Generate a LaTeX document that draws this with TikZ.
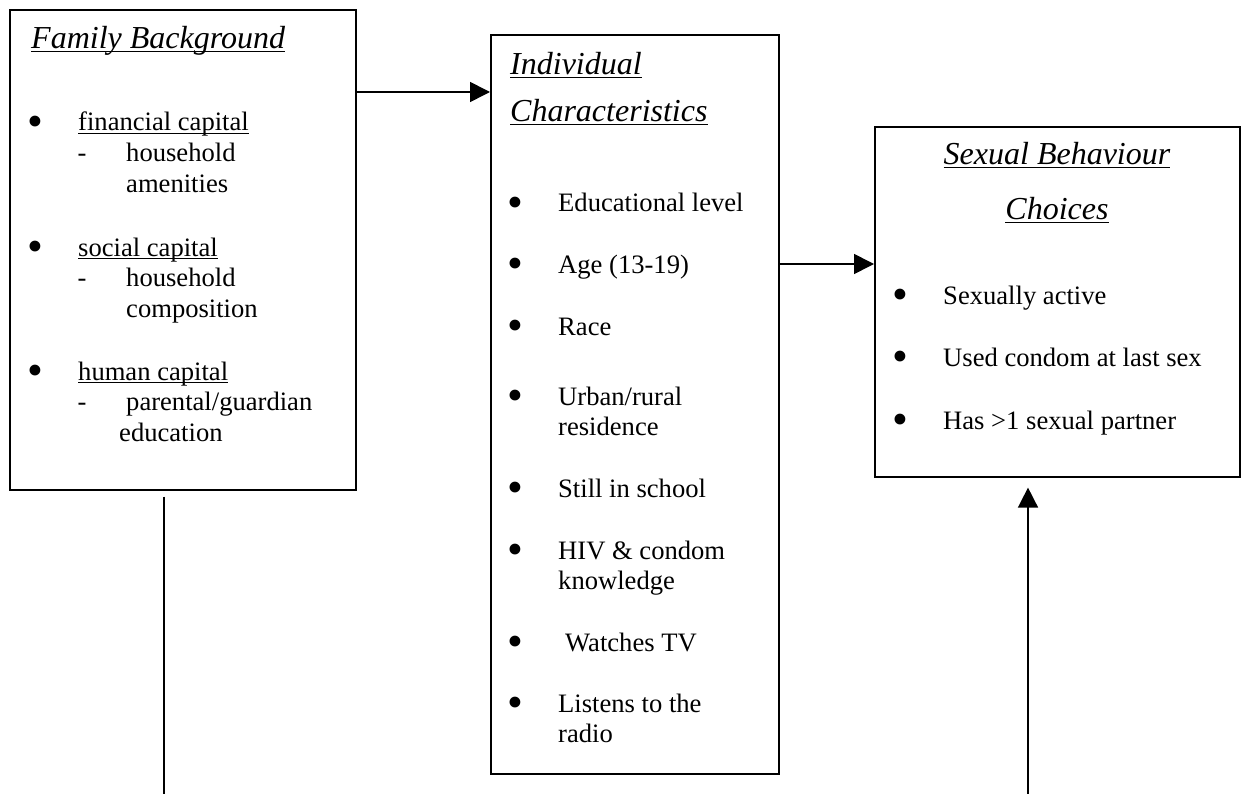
\documentclass[tikz,border=0pt]{standalone}
\usepackage{fontspec}
\usepackage{graphicx}
\setmainfont{Liberation Serif}
\usetikzlibrary{arrows.meta}
\newcommand\ulin[1]{\setbox0\hbox{#1}\rlap{\rule[-3.2pt]{\wd0}{1.4pt}}\box0}
\newcommand\bigbul{\raisebox{-5.2pt}{\scalebox{1.7}{\textbullet}}}
\tikzset{
  box/.style={draw=black, line width=1.6pt, inner sep=0pt, anchor=north west},
  conn/.style={draw=black, line width=1.6pt},
  arr/.style={conn, -{Triangle[length=20pt,width=20pt]}},
  body/.style={anchor=base west, inner sep=0pt, font=\fontsize{26.6}{30.6}\selectfont},
  head/.style={anchor=base west, inner sep=0pt, font=\fontsize{32}{36}\selectfont\itshape},
  bul/.style={anchor=base, inner sep=0pt, font=\fontsize{26.6}{30.6}\selectfont},
}
\begin{document}
\begin{tikzpicture}[x=1pt,y=-1pt]
\useasboundingbox (0,0) rectangle (1241,794);
% boxes
\node[box, minimum width=346pt, minimum height=480pt] (fam) at (9,9) {};
\node[box, minimum width=288pt, minimum height=739pt] (ind) at (490,34) {};
\node[box, minimum width=365pt, minimum height=350pt] (sex) at (874,126) {};
% Family background
\node[head] (fh) at (31,49) {\ulin{Family Background}};
\node[bul] (fb1) at (35,131) {\bigbul};
\node[body] (f1) at (78,131) {\ulin{financial capital}};
\node[bul] (fd1) at (82,162) {-};
\node[body] (f1a) at (126,162) {household};
\node[body] (f1b) at (126,193) {amenities};
\node[bul] (fb2) at (35,256) {\bigbul};
\node[body] (f2) at (78,256) {\ulin{social capital}};
\node[bul] (fd2) at (82,286) {-};
\node[body] (f2a) at (126,286) {household};
\node[body] (f2b) at (126,317) {composition};
\node[bul] (fb3) at (35,380) {\bigbul};
\node[body] (f3) at (78,380) {\ulin{human capital}};
\node[bul] (fd3) at (82,410) {-};
\node[body] (f3a) at (126,410) {parental/guardian};
\node[body] (f3b) at (119,441) {education};
% Individual characteristics
\node[head] (ih1) at (510,75) {\ulin{Individual}};
\node[head] (ih2) at (510,122) {\ulin{Characteristics}};
\node[bul] (ib1) at (515,212) {\bigbul};
\node[body] (i1) at (558,212) {Educational level};
\node[bul] (ib2) at (515,273) {\bigbul};
\node[body] (i2) at (558,273) {Age (13-19)};
\node[bul] (ib3) at (515,335) {\bigbul};
\node[body] (i3) at (558,335) {Race};
\node[bul] (ib4) at (515,405) {\bigbul};
\node[body] (i4a) at (558,405) {Urban/rural};
\node[body] (i4b) at (558,435) {residence};
\node[bul] (ib5) at (515,497) {\bigbul};
\node[body] (i5) at (558,497) {Still in school};
\node[bul] (ib6) at (515,559) {\bigbul};
\node[body] (i6a) at (558,559) {HIV \& condom};
\node[body] (i6b) at (558,589) {knowledge};
\node[bul] (ib7) at (515,651) {\bigbul};
\node[body] (i7) at (565,651) {Watches TV};
\node[bul] (ib8) at (515,712) {\bigbul};
\node[body] (i8a) at (558,712) {Listens to the};
\node[body] (i8b) at (558,742) {radio};
% Sexual behaviour choices
\node[head, anchor=base] (sh1) at (1057,165) {\ulin{Sexual Behaviour}};
\node[head, anchor=base] (sh2) at (1057,220) {\ulin{Choices}};
\node[bul] (sb1) at (900,304) {\bigbul};
\node[body] (s1) at (943,304) {Sexually active};
\node[bul] (sb2) at (900,366) {\bigbul};
\node[body] (s2) at (943,366) {Used condom at last sex};
\node[bul] (sb3) at (900,429) {\bigbul};
\node[body] (s3) at (943,429) {Has >1 sexual partner};
% connectors
\draw[arr] ([yshift=-83pt]fam.north east) coordinate (p1) -- (p1 -| ind.west);
\draw[arr] ([yshift=-230pt]ind.north east) coordinate (p2) -- (p2 -| sex.west);
\coordinate (fbot) at (164,794);
\path (fam.south -| fbot) ++(0,6) coordinate (ftop);
\draw[conn] (ftop) -- (fbot);
\coordinate (sbot) at (1028,794);
\path (sex.south -| sbot) ++(0,10) coordinate (stop);
\draw[arr] (sbot) -- (stop);
\end{tikzpicture}
\end{document}
